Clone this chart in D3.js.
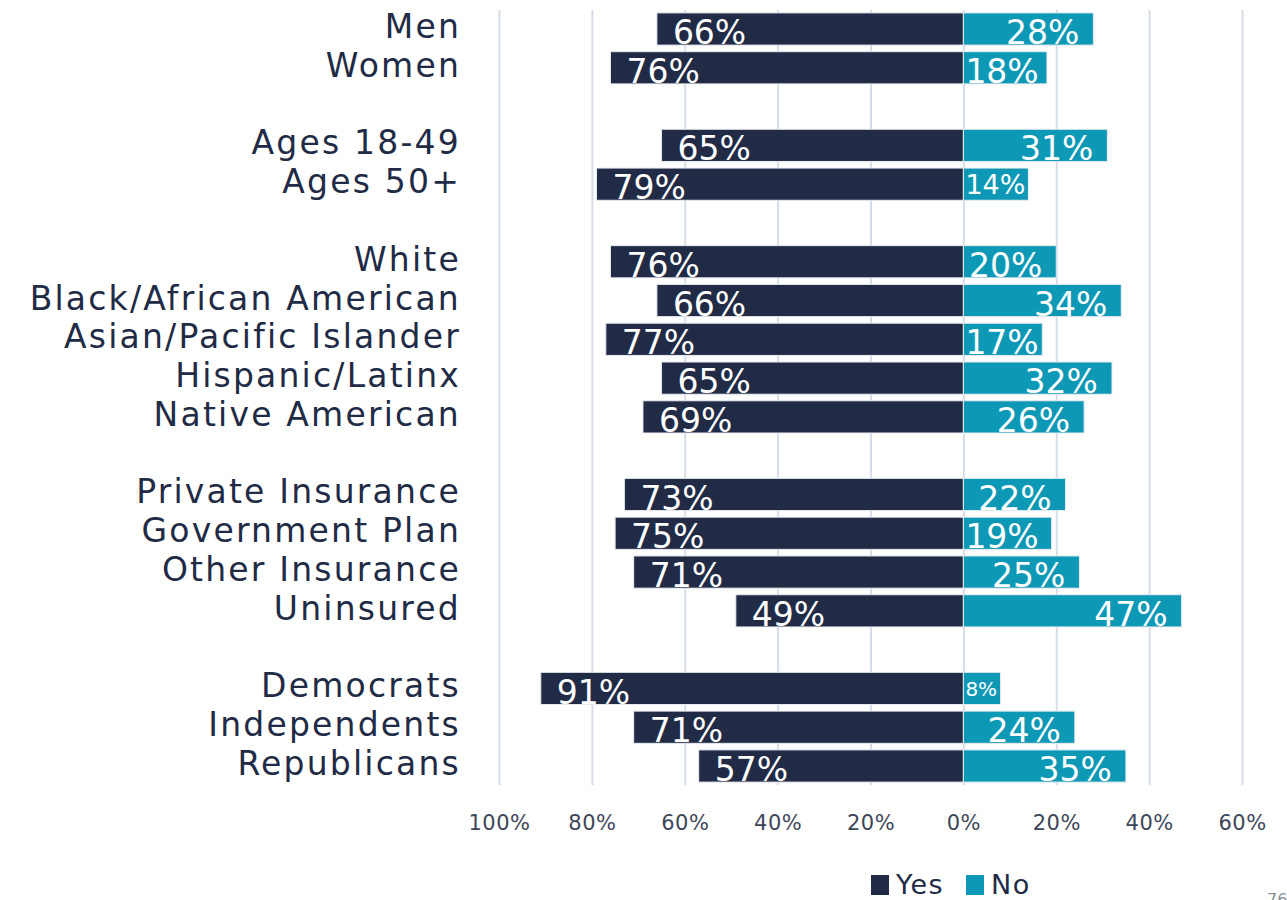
<!DOCTYPE html>
<html>
<head>
<meta charset="utf-8">
<script src="https://cdn.jsdelivr.net/npm/d3@7"></script>
<style>
    html, body { margin: 0; padding: 0; background: #fff; overflow: hidden; }
    svg { display: block; }
    svg text { font-family: "DejaVu Sans", sans-serif; }
</style>
</head>
<body>
<svg id="chart" width="1287" height="900"></svg>
<script>
// rows, blank strings are the gaps between groups
var categories = ["Men", "Women", "",
    "Ages 18-49", "Ages 50+", "",
    "White", "Black/African American", "Asian/Pacific Islander", "Hispanic/Latinx", "Native American", "",
    "Private Insurance", "Government Plan", "Other Insurance", "Uninsured", "",
    "Democrats", "Independents", "Republicans"];
var yesValues = [66, 76, null, 65, 79, null, 76, 66, 77, 65, 69, null, 73, 75, 71, 49, null, 91, 71, 57];
var noValues = [28, 18, null, 31, 14, null, 20, 34, 17, 32, 26, null, 22, 19, 25, 47, null, 8, 24, 35];
var tickValues = [-100, -80, -60, -40, -20, 0, 20, 40, 60];
var seriesNames = ["Yes", "No"];

var yesColor = "#212b45",
    noColor = "#0d98b6",
    textColor = "#212b45",
    gridColor = "#d6dde8";

var svg = d3.select("#chart");

var rows = categories.map(function(c, i) {
    return { key: "r" + i, label: c, yes: yesValues[i], no: noValues[i] };
});

var x = d3.scaleLinear()
    .domain([-100, 60])
    .range([499, 1242]);

var y = d3.scaleBand()
    .domain(rows.map(function(d) { return d.key; }))
    .range([9.6, 785.4])
    .paddingInner(0.17)
    .paddingOuter(0.085);

// axis + vertical gridlines
var axis = svg.append("g")
    .attr("transform", "translate(0,785)")
    .call(d3.axisBottom(x)
        .tickValues(tickValues)
        .tickSize(-775)
        .tickPadding(30)
        .tickFormat(function(d) { return Math.abs(d) + "%"; }));
axis.select(".domain").remove();
axis.selectAll(".tick line").attr("stroke", gridColor).attr("stroke-width", 2);
axis.selectAll(".tick text")
    .attr("fill", "#3e465a")
    .style("font-size", "21px")
    .style("letter-spacing", "0.5px");

var data = rows.filter(function(d) { return d.yes != null; });

// category labels
svg.append("g").selectAll("text")
    .data(data)
    .enter().append("text")
    .attr("x", 461)
    .attr("y", function(d) { return y(d.key) + y.bandwidth() / 2 + 9; })
    .attr("text-anchor", "end")
    .attr("fill", textColor)
    .style("font-size", "33px")
    .style("letter-spacing", "2.2px")
    .text(function(d) { return d.label; });

// yes bars (to the left)
svg.append("g").selectAll("rect")
    .data(data)
    .enter().append("rect")
    .attr("x", function(d) { return x(-d.yes); })
    .attr("y", function(d) { return y(d.key); })
    .attr("width", function(d) { return x(0) - x(-d.yes); })
    .attr("height", y.bandwidth())
    .attr("fill", yesColor)
    .attr("stroke", "#e8ebf0")
    .attr("stroke-width", 1);

// no bars (to the right)
svg.append("g").selectAll("rect")
    .data(data)
    .enter().append("rect")
    .attr("x", x(0))
    .attr("y", function(d) { return y(d.key); })
    .attr("width", function(d) { return x(d.no) - x(0); })
    .attr("height", y.bandwidth())
    .attr("fill", noColor)
    .attr("stroke", "#e8ebf0")
    .attr("stroke-width", 1);

// yes value labels
svg.append("g").selectAll("text")
    .data(data)
    .enter().append("text")
    .attr("x", function(d) { return x(-d.yes) + 16; })
    .attr("y", function(d) { return y(d.key) + y.bandwidth() - 1; })
    .attr("fill", "#fff")
    .style("font-size", "33px")
    .text(function(d) { return d.yes + "%"; });

// no value labels, shrink when bar is too short
svg.append("g").selectAll("text")
    .data(data)
    .enter().append("text")
    .attr("y", function(d) { return y(d.key) + y.bandwidth() - 1; })
    .attr("fill", "#fff")
    .style("font-size", "33px")
    .text(function(d) { return d.no + "%"; })
    .each(function(d) {
        var t = d3.select(this);
        var barW = x(d.no) - x(0);
        var w = this.getComputedTextLength();
        if (w > barW - 4) {
            var fs = Math.floor(33 * (barW - 4) / w);
            t.style("font-size", fs + "px");
            w = this.getComputedTextLength();
            t.attr("y", y(d.key) + y.bandwidth() / 2 + fs * 0.36);
        }
        var end = x(d.no) - 14;
        var start = Math.max(end - w, x(0) + 2);
        t.attr("x", start);
    });

// legend
var legend = svg.append("g").attr("transform", "translate(871,884)");
var colors = [yesColor, noColor];
var offsets = [0, 95];
seriesNames.forEach(function(name, i) {
    legend.append("rect")
        .attr("x", offsets[i])
        .attr("y", -9)
        .attr("width", 18)
        .attr("height", 20)
        .attr("fill", colors[i]);
    legend.append("text")
        .attr("x", offsets[i] + 25)
        .attr("y", 10)
        .attr("fill", textColor)
        .style("font-size", "27px")
        .style("letter-spacing", "1.5px")
        .text(name);
});

// page number, partly below the bottom edge as in the original
svg.append("text")
    .attr("x", 1267)
    .attr("y", 905)
    .attr("fill", "#8a8f99")
    .style("font-size", "16px")
    .text("76");
</script>
</body>
</html>
